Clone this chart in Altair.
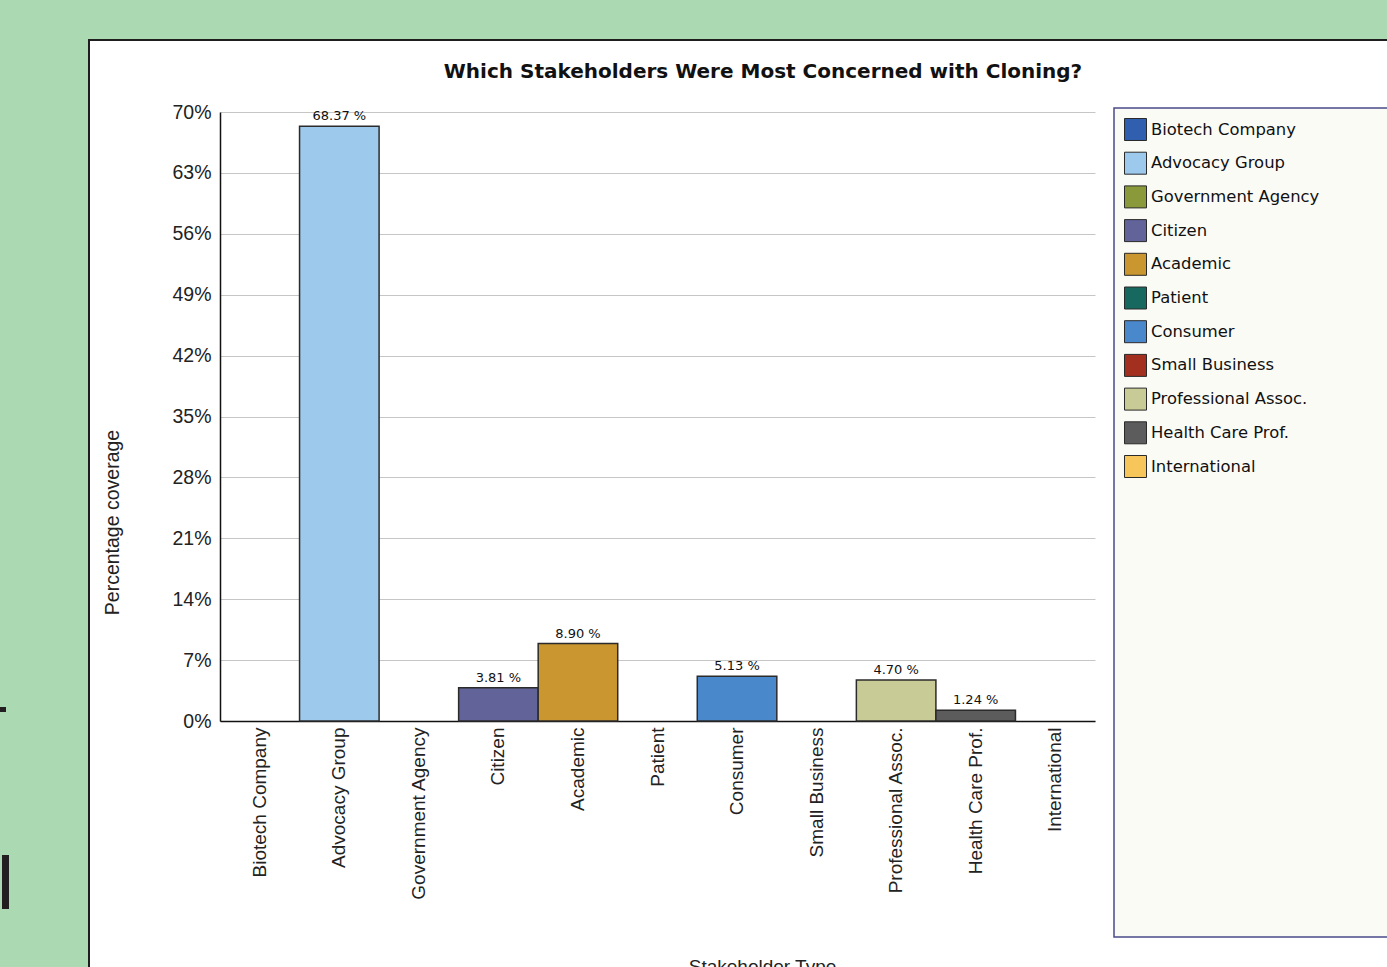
import altair as alt
import pandas as pd

# ---- data -------------------------------------------------------------
stakeholders = [
    "Biotech Company", "Advocacy Group", "Government Agency", "Citizen",
    "Academic", "Patient", "Consumer", "Small Business",
    "Professional Assoc.", "Health Care Prof.", "International",
]
coverage = [0, 68.37, 0, 3.81, 8.90, 0, 5.13, 0, 4.70, 1.24, 0]
palette = [
    "#2f5fae", "#9dc9ec", "#8a9a3a", "#626399", "#c9962f", "#17685f",
    "#4a88cc", "#a3301f", "#c9cb97", "#5c5c5c", "#f7c65a",
]
y_ticks = [0, 7, 14, 21, 28, 35, 42, 49, 56, 63, 70]
chart_title = "Which Stakeholders Were Most Concerned with Cloning?"

# ---- layout ------------------------------------------------------------
W, H = 875, 609
PAD = {"left": 220, "top": 112, "right": 292, "bottom": 246}
GREEN = "#abd9b1"
AXIS_FONT = "Liberation Sans"

bars_df = pd.DataFrame({"Stakeholder": stakeholders, "Coverage": coverage})
one = pd.DataFrame({"k": [0]})

x_enc = alt.X(
    "Stakeholder:N",
    sort=stakeholders,
    scale=alt.Scale(domain=stakeholders, paddingInner=0, paddingOuter=0),
    axis=alt.Axis(
        title="Stakeholder Type",
        titleFont=AXIS_FONT, titleFontSize=19, titleFontWeight="normal",
        titleColor="#222222", titleX=542, titleY=236,
        titleAlign="center", titleBaseline="top",
        labelAngle=-90, labelFont=AXIS_FONT, labelFontSize=19,
        labelColor="#222222", labelPadding=6, labelLimit=300,
        ticks=False, domainColor="#111111", domainWidth=1.5, grid=False,
    ),
)
y_enc = alt.Y(
    "Coverage:Q",
    scale=alt.Scale(domain=[0, 70], nice=False, zero=True),
    axis=alt.Axis(
        values=y_ticks,
        labelExpr="datum.value + '%'",
        title="Percentage coverage",
        titleFont=AXIS_FONT, titleFontSize=19.5, titleFontWeight="normal",
        titleColor="#222222", titleX=-108, titleY=410, titleAngle=270,
        titleAlign="center", titleBaseline="middle",
        labelFont=AXIS_FONT, labelFontSize=19.5, labelColor="#222222",
        labelPadding=9, ticks=False,
        domainColor="#111111", domainWidth=1.5,
        grid=True, gridColor="#c6c6c6", gridWidth=1,
    ),
)


def block(x, x2, y, y2, fill, stroke=None, sw=0):
    """A rectangle placed in pixel space around the plot area."""
    kw = {"fill": fill}
    if stroke:
        kw.update(stroke=stroke, strokeWidth=sw)
    return alt.Chart(one).mark_rect(**kw).encode(
        x=alt.value(x), x2=alt.value(x2), y=alt.value(y), y2=alt.value(y2)
    )


# page around the white chart panel
green_left = block(-220, -132, -112, 860, GREEN)
green_top = block(-220, 1170, -112, -72, GREEN)
panel_left = alt.Chart(one).mark_rule(color="#1e1e1e", strokeWidth=2).encode(
    x=alt.value(-131), y=alt.value(-72), y2=alt.value(860)
)
panel_top = alt.Chart(one).mark_rule(color="#1e1e1e", strokeWidth=2).encode(
    x=alt.value(-132), x2=alt.value(1170), y=alt.value(-72)
)
page_mark_a = block(-220, -214, 595, 600, "#231f20")
page_mark_b = block(-218, -211, 743, 797, "#231f20")

# chart heading
heading = alt.Chart(one).mark_text(
    text=chart_title, font="DejaVu Sans", fontSize=20, fontWeight="bold",
    color="#111111", align="center", baseline="alphabetic",
).encode(x=alt.value(543), y=alt.value(-34))

# legend frame
legend_box = block(894, 1180, -4, 825, "#fbfbf6", "#4b4b8b", 1.5)

bars = (
    alt.Chart(bars_df)
    .transform_filter("datum.Coverage > 0")
    .mark_bar(stroke="#2b2b2b", strokeWidth=1.5)
    .encode(
        x=x_enc,
        y=y_enc,
        color=alt.Color(
            "Stakeholder:N",
            scale=alt.Scale(domain=stakeholders, range=palette),
            legend=alt.Legend(
                orient="none", legendX=904, legendY=6, title=None,
                symbolType="square", symbolSize=484,
                symbolStrokeColor="#2a2a2a", symbolStrokeWidth=1,
                symbolOpacity=1,
                labelFont="DejaVu Sans", labelFontSize=16.4,
                labelColor="#111111", labelOffset=4, labelLimit=300,
                rowPadding=6.7, padding=0,
            ),
        ),
    )
)

labels = (
    alt.Chart(bars_df)
    .transform_filter("datum.Coverage > 0")
    .transform_calculate(label="format(datum.Coverage, '.2f') + ' %'")
    .mark_text(
        baseline="bottom", dy=-3, font="DejaVu Sans", fontSize=13,
        color="#111111",
    )
    .encode(x=x_enc, y=y_enc, text="label:N")
)

chart = (
    alt.layer(
        green_left, green_top, panel_left, panel_top,
        page_mark_a, page_mark_b, heading, legend_box, bars, labels,
    )
    .properties(
        width=W,
        height=H,
        padding=PAD,
        autosize=alt.AutoSizeParams(type="none"),
        background="#ffffff",
    )
    .configure_view(strokeWidth=0)
)

chart.save("out.html", embed_options={"renderer": "svg", "actions": False})
